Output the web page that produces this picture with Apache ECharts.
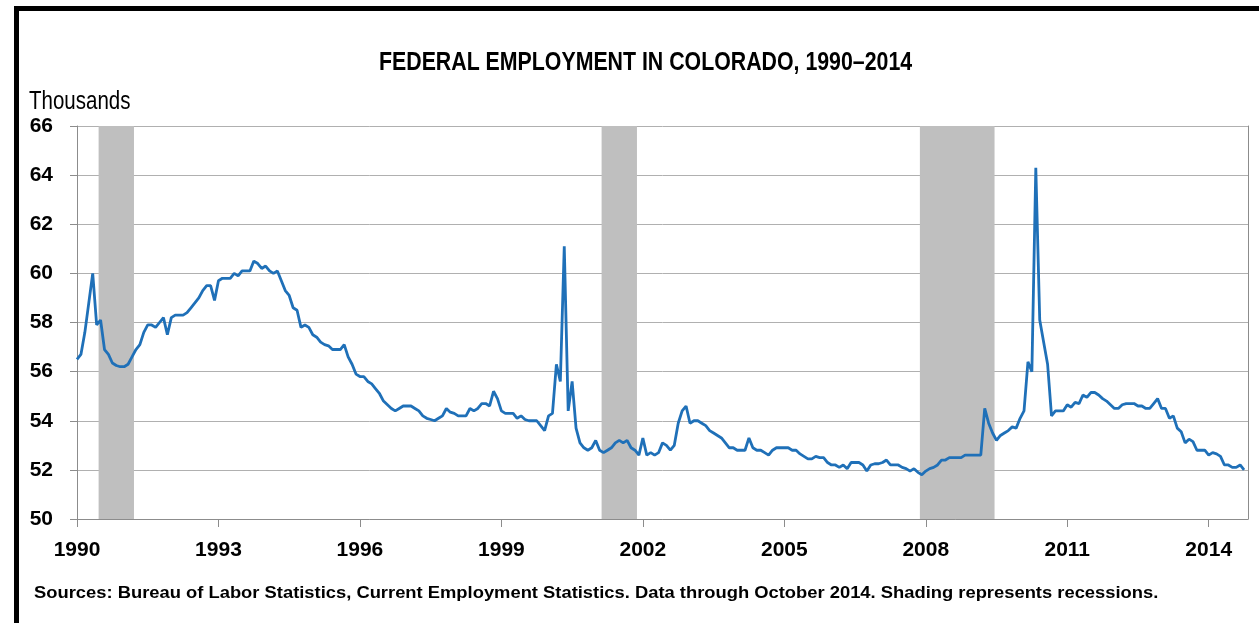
<!doctype html>
<html>
<head>
<meta charset="UTF-8">
<title>Federal employment in Colorado, 1990-2014</title>
<script src="https://cdn.jsdelivr.net/npm/echarts@6/dist/echarts.min.js"></script>
<style>
  html, body { margin: 0; padding: 0; background: #fff; }
  #main { width: 1259px; height: 623px; }
</style>
</head>
<body>
<div id="main"></div>
<script type="text/javascript">
// monthly federal employment, thousands, Jan 1990 .. Oct 2014
var startYear = 1990;
var employment = [
  56.5, 56.7, 57.6, 58.8, 60.0, 57.9, 58.1, 56.9, 56.7, 56.35, 56.25, 56.2,
  56.2, 56.3, 56.6, 56.9, 57.1, 57.6, 57.9, 57.9, 57.8, 58.0, 58.2, 57.5,
  58.2, 58.3, 58.3, 58.3, 58.4, 58.6, 58.8, 59.0, 59.3, 59.5, 59.5, 58.9,
  59.7, 59.8, 59.8, 59.8, 60.0, 59.9, 60.1, 60.1, 60.1, 60.5, 60.4, 60.2,
  60.3, 60.1, 60.0, 60.1, 59.7, 59.3, 59.1, 58.6, 58.5, 57.8, 57.9, 57.8,
  57.5, 57.4, 57.2, 57.1, 57.05, 56.9, 56.9, 56.9, 57.1, 56.6, 56.3, 55.9,
  55.8, 55.8, 55.6, 55.5, 55.3, 55.1, 54.8, 54.65, 54.5, 54.4, 54.5, 54.6,
  54.6, 54.6, 54.5, 54.4, 54.2, 54.1, 54.05, 54.0, 54.1, 54.2, 54.5, 54.35,
  54.3, 54.2, 54.2, 54.2, 54.5, 54.4, 54.5, 54.7, 54.7, 54.6, 55.2, 54.9,
  54.4, 54.3, 54.3, 54.3, 54.1, 54.2, 54.05, 54.0, 54.0, 54.0, 53.8, 53.6,
  54.2, 54.3, 56.3, 55.6, 61.1, 54.4, 55.6, 53.7, 53.1, 52.9, 52.8, 52.9,
  53.2, 52.8, 52.7, 52.8, 52.9, 53.1, 53.2, 53.1, 53.2, 52.9, 52.8, 52.6,
  53.3, 52.6, 52.7, 52.6, 52.7, 53.1, 53.0, 52.8, 53.0, 53.9, 54.4, 54.6,
  53.9, 54.0, 54.0, 53.9, 53.8, 53.6, 53.5, 53.4, 53.3, 53.1, 52.9, 52.9,
  52.8, 52.8, 52.8, 53.3, 52.9, 52.8, 52.8, 52.7, 52.6, 52.8, 52.9, 52.9,
  52.9, 52.9, 52.8, 52.8, 52.65, 52.55, 52.45, 52.45, 52.55, 52.5, 52.5, 52.3,
  52.2, 52.2, 52.1, 52.2, 52.05, 52.3, 52.3, 52.3, 52.2, 51.95, 52.2, 52.25,
  52.25, 52.3, 52.4, 52.2, 52.2, 52.2, 52.1, 52.05, 51.95, 52.05, 51.9, 51.8,
  51.95, 52.05, 52.1, 52.2, 52.4, 52.4, 52.5, 52.5, 52.5, 52.5, 52.6, 52.6,
  52.6, 52.6, 52.6, 54.5, 53.9, 53.5, 53.2, 53.4, 53.5, 53.6, 53.75, 53.7,
  54.1, 54.4, 56.4, 56.0, 64.3, 58.1, 57.2, 56.3, 54.2, 54.4, 54.4, 54.4,
  54.65, 54.55, 54.75, 54.7, 55.05, 54.95, 55.15, 55.15, 55.05, 54.9, 54.8, 54.65,
  54.5, 54.5, 54.65, 54.7, 54.7, 54.7, 54.6, 54.6, 54.5, 54.5, 54.7, 54.9,
  54.5, 54.5, 54.1, 54.2, 53.7, 53.55, 53.1, 53.25, 53.15, 52.8, 52.8, 52.8,
  52.6, 52.7, 52.65, 52.55, 52.2, 52.2, 52.1, 52.1, 52.2, 52.0
];
// recessions as [first month, last month], months counted from Jan 1990
var recessions = [[6, 14], [134, 142], [215, 233]];
var yearLabels = ['1990', '1993', '1996', '1999', '2002', '2005', '2008', '2011', '2014'];

var sans = "'Liberation Sans', Arial, sans-serif";
var gray = '#8c8c8c';

var points = [];
for (var i = 0; i < employment.length; i++) {
    points.push([i, employment[i]]);
}
var shade = recessions.map(function (r) {
    return [{ xAxis: r[0] - 0.5 }, { xAxis: r[1] + 0.5 }];
});

// no narrow font installed, so the condensed texts are squeezed horizontally
function label(text, x, y, size, weight, squeeze) {
    return {
        type: 'text', x: x, y: y, scaleX: squeeze, z: 10,
        style: {
            text: text, fill: '#000',
            font: weight + ' ' + size + 'px ' + sans,
            textAlign: 'left', textVerticalAlign: 'middle'
        }
    };
}

var myChart = echarts.init(document.getElementById('main'));
var option = {
    backgroundColor: '#fff',
    animation: false,
    graphic: [
        { type: 'rect', shape: { x: 14, y: 6, width: 5, height: 617 }, style: { fill: '#000' } },
        { type: 'rect', shape: { x: 14, y: 6, width: 1245, height: 5 }, style: { fill: '#000' } },
        label('FEDERAL EMPLOYMENT IN COLORADO, 1990\u20132014', 379, 63, 26, 'bold', 0.82),
        label('Thousands', 29, 102, 25, 'normal', 0.82),
        label('Sources: Bureau of Labor Statistics, Current Employment Statistics. Data through October 2014. Shading represents recessions.',
              34, 593, 17, 'bold', 1.08)
    ],
    grid: { left: 77, right: 11, top: 126, bottom: 104 },
    xAxis: {
        type: 'value',
        min: 0,
        max: 298,
        interval: 36,
        axisLine: { lineStyle: { color: gray, width: 1 } },
        axisTick: { show: true, length: 8, lineStyle: { color: gray } },
        splitLine: { show: false },
        axisLabel: {
            margin: 21,
            fontFamily: sans, fontSize: 21, fontWeight: 'bold', color: '#000',
            formatter: function (v) { return yearLabels[Math.round(v / 36)] || ''; }
        }
    },
    yAxis: [
        {
            type: 'value',
            min: 50, max: 66, interval: 2,
            axisLine: { show: true, lineStyle: { color: gray, width: 1 } },
            axisTick: { show: true, length: 7, lineStyle: { color: gray } },
            splitLine: { lineStyle: { color: '#b0b0b0', width: 1 } },
            axisLabel: { margin: 24, fontFamily: sans, fontSize: 21, fontWeight: 'bold', color: '#000' }
        },
        {
            type: 'value', position: 'right',
            min: 50, max: 66, interval: 2,
            axisLine: { show: true, lineStyle: { color: gray, width: 1 } },
            axisTick: { show: false }, axisLabel: { show: false }, splitLine: { show: false }
        }
    ],
    series: [{
        type: 'line',
        data: points,
        showSymbol: false,
        lineStyle: { color: '#1f70b8', width: 2.8 },
        markArea: {
            silent: true,
            itemStyle: { color: '#bfbfbf', opacity: 1 },
            data: shade
        }
    }]
};
myChart.setOption(option);
</script>
</body>
</html>
